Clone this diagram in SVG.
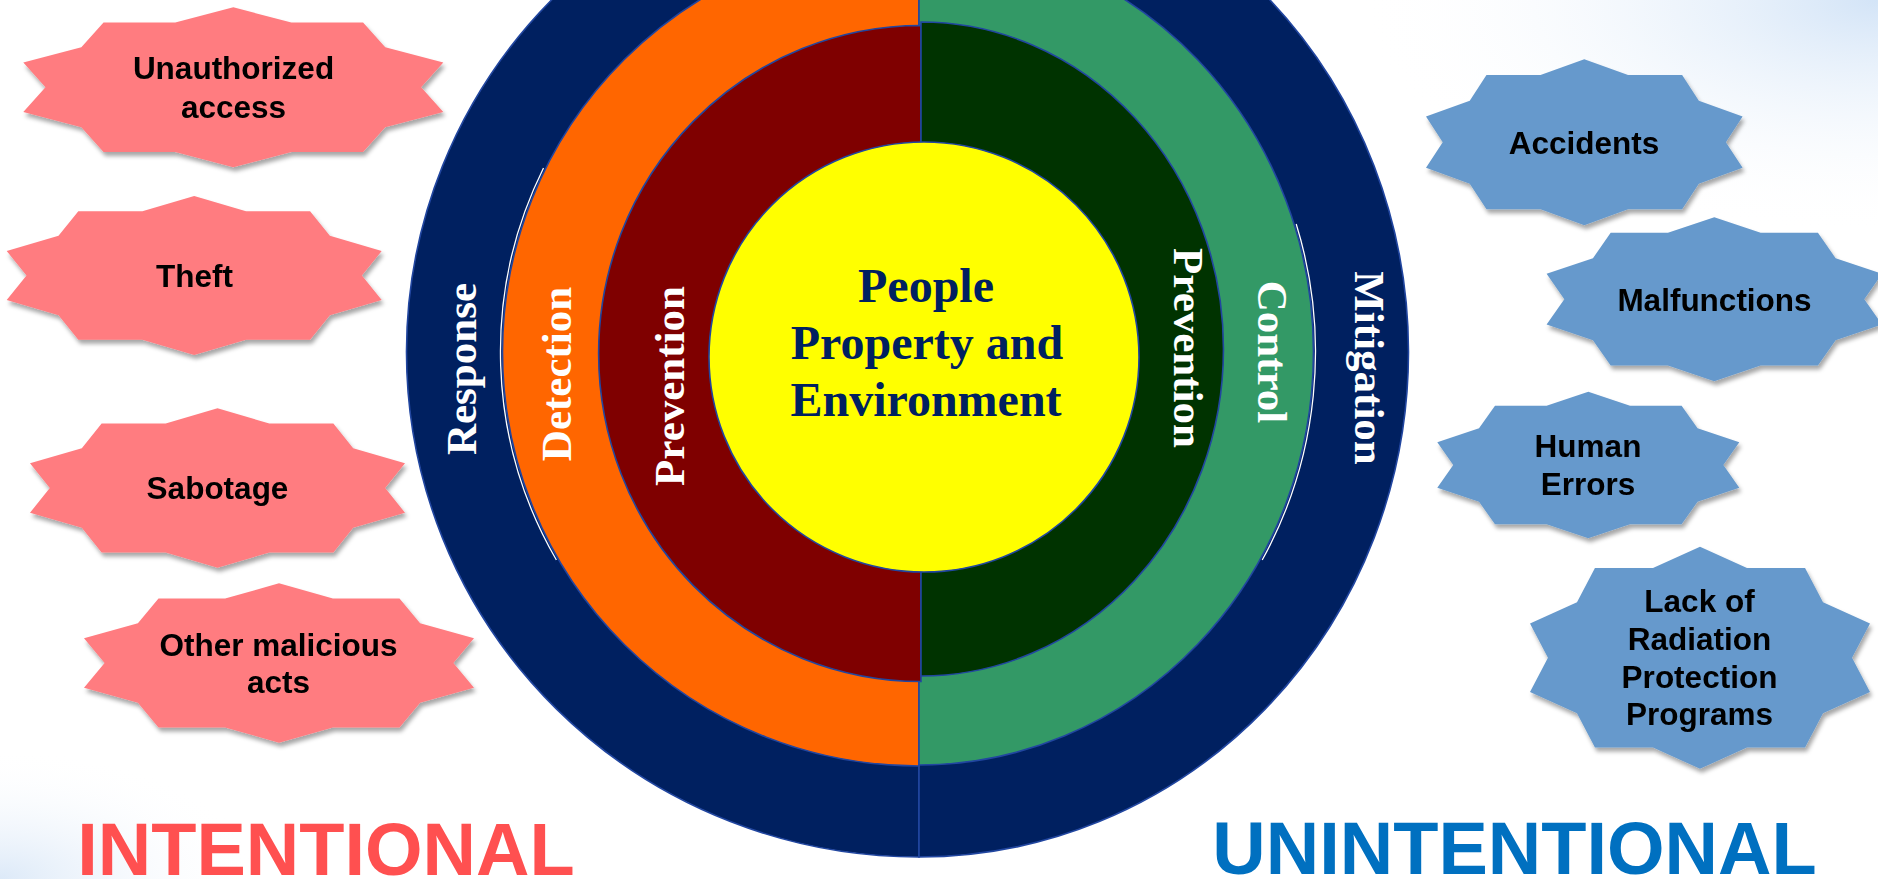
<svg xmlns="http://www.w3.org/2000/svg" xmlns:xlink="http://www.w3.org/1999/xlink" width="1878" height="879" viewBox="0 0 1878 879">
  <style>
    .ring { stroke: #2146A0; stroke-width: 1.6; }
    .navy { fill: #002060; }
    .orange { fill: #FF6600; }
    .maroon { fill: #7F0000; }
    .dkgreen { fill: #003300; }
    .green { fill: #339966; }
    .yellow { fill: #FFFF00; }
    .gap { fill: none; stroke: #FFFFFF; stroke-width: 1.3; }
    .band { font-family: "Liberation Serif", "Times New Roman", serif; font-size: 43px; font-weight: bold; fill: #FFFFFF; text-anchor: middle; }
    .core { font-family: "Liberation Serif", "Times New Roman", serif; font-size: 48px; font-weight: bold; fill: #002060; text-anchor: middle; }
    .lbl { font-family: "Liberation Sans", Arial, sans-serif; font-size: 31.5px; font-weight: bold; fill: #000000; text-anchor: middle; }
    .pink { fill: #FF7C80; }
    .blue { fill: #6699CC; }
    .title { font-family: "Liberation Sans", Arial, sans-serif; font-size: 74px; font-weight: bold; text-anchor: middle; }
  </style>
  <defs>
    <path id="star10" d="M0,-100 L27.64,-80.9 L61.8,-80.9 L72.36,-50 L100,-30.9 L89.44,0 L100,30.9 L72.36,50 L61.8,80.9 L27.64,80.9 L0,100 L-27.64,80.9 L-61.8,80.9 L-72.36,50 L-100,30.9 L-89.44,0 L-100,-30.9 L-72.36,-50 L-61.8,-80.9 L-27.64,-80.9 Z"/>
    <filter id="shadow" x="-10%" y="-10%" width="125%" height="130%">
      <feDropShadow dx="2" dy="4" stdDeviation="2" flood-color="#000000" flood-opacity="0.35"/>
    </filter>
    <radialGradient id="bgTR" cx="1878" cy="0" r="520" gradientUnits="userSpaceOnUse" gradientTransform="translate(1878 0) scale(1 0.45) translate(-1878 0)">
      <stop offset="0" stop-color="#D3E4F7"/>
      <stop offset="1" stop-color="#FFFFFF" stop-opacity="0"/>
    </radialGradient>
    <radialGradient id="bgBL" cx="0" cy="879" r="260" gradientUnits="userSpaceOnUse" gradientTransform="translate(0 879) scale(1 0.5) translate(0 -879)">
      <stop offset="0" stop-color="#DCE9F8"/>
      <stop offset="1" stop-color="#FFFFFF" stop-opacity="0"/>
    </radialGradient>
  </defs>

  <rect x="0" y="0" width="1878" height="879" fill="#FFFFFF"/>
  <rect x="0" y="0" width="1878" height="879" fill="url(#bgTR)"/>
  <rect x="0" y="0" width="1878" height="879" fill="url(#bgBL)"/>

  <g id="connectors"></g>

  <g id="ring-response-mitigation">
    <path class="ring navy" d="M919,-153 A512,504.5 0 0 0 919,857 Z"/>
    <path class="ring navy" d="M919,-153 A489,504.5 0 0 1 919,857 Z"/>
    <text class="band" transform="translate(476 369) rotate(-90)">Response</text>
    <text class="band" transform="translate(1355 368) rotate(90)">Mitigation</text>
  </g>

  <g id="ring-detection-control">
    <path class="ring orange" d="M919,-62 A416,413.5 0 0 0 919,766 Z"/>
    <path class="ring green" d="M919,-61 A394,412.5 0 0 1 919,765 Z"/>
    <path class="gap" d="M543.5,168 A418.5,416.5 0 0 0 556.4,560"/>
    <path class="gap" d="M1296.2,224 A396.5,415.5 0 0 1 1262.2,560"/>
    <text class="band" transform="translate(571 374) rotate(-90)">Detection</text>
    <text class="band" transform="translate(1258 352) rotate(90)">Control</text>
  </g>

  <g id="ring-prevention">
    <path class="ring maroon" d="M921,25.5 A322,327.5 0 0 0 921,681.5 Z"/>
    <path class="ring dkgreen" d="M921,22 A302,326.5 0 0 1 921,676 Z"/>
    <text class="band" transform="translate(684 386) rotate(-90)">Prevention</text>
    <text class="band" transform="translate(1174 348) rotate(90)">Prevention</text>
  </g>

  <g id="core">
    <circle class="ring yellow" cx="924" cy="357" r="215"/>
    <text class="core" x="926" y="302">People</text>
    <text class="core" x="927" y="359">Property and</text>
    <text class="core" x="926" y="416">Environment</text>
  </g>

  <g id="unauthorized-access" filter="url(#shadow)">
    <use xlink:href="#star10" class="pink" transform="translate(233.3 87.3) scale(2.10 0.80)"/>
    <text class="lbl" x="233.5" y="79.3">Unauthorized</text>
    <text class="lbl" x="233.5" y="118">access</text>
  </g>

  <g id="theft" filter="url(#shadow)">
    <use xlink:href="#star10" class="pink" transform="translate(194.2 275.5) scale(1.875 0.795)"/>
    <text class="lbl" x="194.5" y="287.3">Theft</text>
  </g>

  <g id="sabotage" filter="url(#shadow)">
    <use xlink:href="#star10" class="pink" transform="translate(217.5 488) scale(1.875 0.797)"/>
    <text class="lbl" x="217.5" y="499.3">Sabotage</text>
  </g>

  <g id="other-malicious-acts" filter="url(#shadow)">
    <use xlink:href="#star10" class="pink" transform="translate(279 663) scale(1.95 0.797)"/>
    <text class="lbl" x="278.5" y="655.7">Other malicious</text>
    <text class="lbl" x="278.5" y="693.3">acts</text>
  </g>

  <g id="accidents" filter="url(#shadow)">
    <use xlink:href="#star10" class="blue" transform="translate(1584.3 142.2) scale(1.583 0.83)"/>
    <text class="lbl" x="1584" y="154">Accidents</text>
  </g>

  <g id="malfunctions" filter="url(#shadow)">
    <use xlink:href="#star10" class="blue" transform="translate(1714.3 299.2) scale(1.677 0.82)"/>
    <text class="lbl" x="1714.5" y="310.7">Malfunctions</text>
  </g>

  <g id="human-errors" filter="url(#shadow)">
    <use xlink:href="#star10" class="blue" transform="translate(1588.3 465) scale(1.51 0.733)"/>
    <text class="lbl" x="1588" y="457.3">Human</text>
    <text class="lbl" x="1588" y="495">Errors</text>
  </g>

  <g id="lack-of-rpp" filter="url(#shadow)">
    <use xlink:href="#star10" class="blue" transform="translate(1700 657.8) scale(1.70 1.11)"/>
    <text class="lbl" x="1699.5" y="611.7">Lack of</text>
    <text class="lbl" x="1699.5" y="650">Radiation</text>
    <text class="lbl" x="1699.5" y="688.3">Protection</text>
    <text class="lbl" x="1699.5" y="725">Programs</text>
  </g>

  <g id="intentional">
    <text class="title" x="326" y="875" fill="#FF5050">INTENTIONAL</text>
  </g>
  <g id="unintentional">
    <text class="title" x="1514.5" y="874" fill="#0070C0">UNINTENTIONAL</text>
  </g>
</svg>
